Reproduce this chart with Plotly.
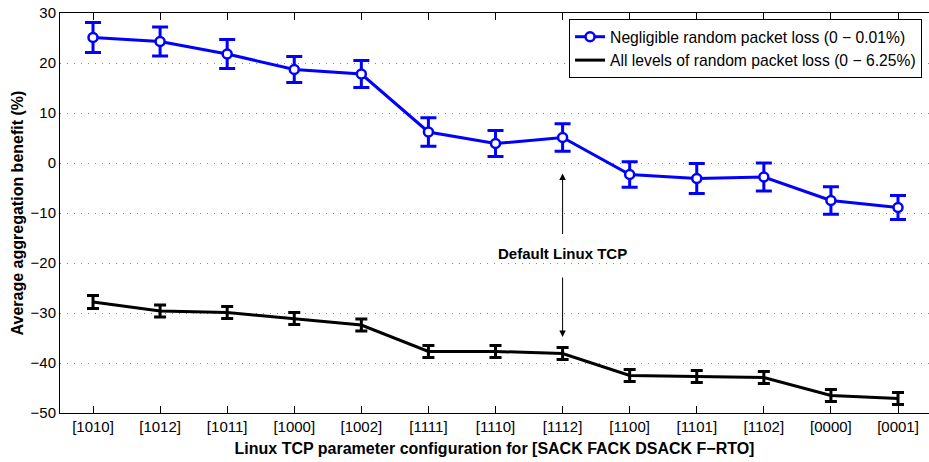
import plotly.graph_objects as go

configs = ["[1010]", "[1012]", "[1011]", "[1000]", "[1002]", "[1111]", "[1110]",
           "[1112]", "[1100]", "[1101]", "[1102]", "[0000]", "[0001]"]
x_pos = list(range(len(configs)))

neg_mean = [25.1, 24.3, 21.8, 18.7, 17.8, 6.2, 3.9, 5.1, -2.3, -3.1, -2.8, -7.5, -8.9]
neg_err = [3.0, 2.9, 2.9, 2.6, 2.7, 2.85, 2.6, 2.75, 2.55, 3.0, 2.8, 2.75, 2.4]

all_mean = [-27.8, -29.6, -29.9, -31.1, -32.4, -37.7, -37.7, -38.1, -42.5, -42.7, -42.9, -46.5, -47.1]
all_err = [1.3, 1.2, 1.2, 1.2, 1.2, 1.2, 1.2, 1.2, 1.2, 1.2, 1.2, 1.2, 1.2]

y_ticks = [30, 20, 10, 0, -10, -20, -30, -40, -50]

FONT = "Liberation Sans, Arial, Helvetica, sans-serif"

fig = go.Figure()
fig.add_trace(go.Scatter(
    x=x_pos, y=neg_mean, mode="lines+markers",
    name="Negligible random packet loss (0 \u2212 0.01%)",
    line=dict(color="#0000ff", width=3),
    marker=dict(symbol="circle", size=9, color="white",
                line=dict(color="#0000ff", width=2.5)),
    error_y=dict(type="data", array=neg_err, visible=True,
                 color="#0000ff", thickness=3, width=8),
))
fig.add_trace(go.Scatter(
    x=x_pos, y=all_mean, mode="lines",
    name="All levels of random packet loss (0 \u2212 6.25%)",
    line=dict(color="black", width=3),
    error_y=dict(type="data", array=all_err, visible=True,
                 color="black", thickness=3, width=6),
))

# Arrows and label for default Linux TCP
fig.add_annotation(x=7, y=-18, xref="x", yref="y", text="<b>Default Linux TCP</b>",
                   showarrow=False, font=dict(family=FONT, size=15, color="black"))
fig.add_annotation(x=7, y=-2.1, ax=7, ay=-14.5, xref="x", yref="y",
                   axref="x", ayref="y", text="", showarrow=True,
                   arrowhead=2, arrowsize=1.3, arrowwidth=1, arrowcolor="black", standoff=0)
fig.add_annotation(x=7, y=-34.8, ax=7, ay=-22.6, xref="x", yref="y",
                   axref="x", ayref="y", text="", showarrow=True,
                   arrowhead=2, arrowsize=1.3, arrowwidth=1, arrowcolor="black", standoff=0)

fig.update_layout(
    width=929, height=462,
    margin=dict(l=60, r=0, t=13, b=48.5),
    plot_bgcolor="white", paper_bgcolor="white",
    font=dict(family=FONT, size=15, color="black"),
    showlegend=True,
    legend=dict(x=0.992, y=0.985, xanchor="right", yanchor="top",
                bgcolor="white", bordercolor="black", borderwidth=1,
                font=dict(family=FONT, size=15.7), tracegroupgap=0,
                itemwidth=30),
    xaxis=dict(
        range=[-0.492, 12.462], tickmode="array", tickvals=x_pos, ticktext=configs,
        showgrid=False, zeroline=False, showline=True, linecolor="black", linewidth=1,
        mirror="ticks", ticks="inside", ticklen=7, tickcolor="black",
        tickfont=dict(family=FONT, size=15),
        title=dict(text="<b>Linux TCP parameter configuration for [SACK FACK DSACK F\u2212RTO]</b>",
                   font=dict(family=FONT, size=16), standoff=8),
    ),
    yaxis=dict(
        range=[-50, 30], tickmode="array", tickvals=y_ticks,
        ticktext=[str(v).replace("-", "\u2212") for v in y_ticks],
        showgrid=True, gridcolor="#888888", griddash="1px,6px", gridwidth=1,
        zeroline=False, showline=True, linecolor="black", linewidth=1,
        ticks="", tickfont=dict(family=FONT, size=15), ticklabeloverflow="allow",
        title=dict(text="<b>Average aggregation benefit (%)</b>",
                   font=dict(family=FONT, size=16), standoff=2),
    ),
)

fig.write_html("out.html",
               config={"displayModeBar": False},
               post_script="document.body.style.margin='0px';document.body.style.overflow='hidden';")
